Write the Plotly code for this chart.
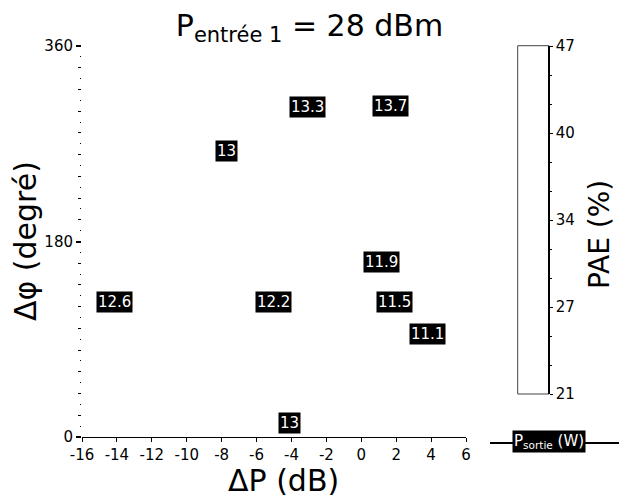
import plotly.graph_objects as go

# Data
delta_p = [-14.15, -5.03, 1.15, 1.92, 3.82, -4.1, -3.06, 1.65, -7.7]
delta_phi = [124.6, 124.5, 160.7, 124.6, 94.4, 12.6, 304.1, 305.0, 263.6]
p_sortie = ["12.6", "12.2", "11.9", "11.5", "11.1", "13", "13.3", "13.7", "13"]

x_ticks = [-16, -14, -12, -10, -8, -6, -4, -2, 0, 2, 4, 6]
x_ticktext = ["-16", "-14", "-12", "-10", "-8", "-6", "-4", "-2", "0", "2", "4", "6"]
y_ticks = [0, 180, 360]
pae_tickvals = [21, 27.5, 34, 40.5, 47]
pae_ticktext = ["21", "27", "34", "40", "47"]

W, H = 619, 498
L, R, T, B = 82, 20, 46, 61
PW = W - L - R
PH = H - T - B


def px(xp):
    return (xp - L) / PW


def py(yp):
    return (H - B - yp) / PH


FONT = "DejaVu Sans"

fig = go.Figure()

# invisible traces to anchor axes
fig.add_trace(go.Scatter(x=delta_p, y=delta_phi, mode="markers",
                         marker=dict(opacity=0), hoverinfo="skip", showlegend=False))
fig.add_trace(go.Scatter(x=[None], y=[None], yaxis="y2", showlegend=False, hoverinfo="skip"))
fig.add_trace(go.Scatter(x=[None], y=[None], yaxis="y3", showlegend=False, hoverinfo="skip"))

annotations = []
for xv, yv, t in zip(delta_p, delta_phi, p_sortie):
    annotations.append(dict(x=xv, y=yv, xref="x", yref="y", text=t, showarrow=False,
                            font=dict(family=FONT, size=15, color="white"),
                            bgcolor="black", borderpad=1, xanchor="center", yanchor="middle"))

# axis titles
annotations.append(dict(x=px(283), y=py(480), xref="paper", yref="paper", text="ΔP (dB)",
                        showarrow=False, font=dict(family=FONT, size=30, color="black"),
                        xanchor="center", yanchor="middle"))
annotations.append(dict(x=px(25), y=py(241), xref="paper", yref="paper", text="Δφ (degré)",
                        showarrow=False, textangle=-90, font=dict(family=FONT, size=30, color="black"),
                        xanchor="center", yanchor="middle"))
annotations.append(dict(x=px(599), y=py(235), xref="paper", yref="paper", text="PAE (%)",
                        showarrow=False, textangle=-90, font=dict(family=FONT, size=28, color="black"),
                        xanchor="center", yanchor="middle"))
# legend label
annotations.append(dict(x=px(548.5), y=py(441), xref="paper", yref="paper",
                        text="P<sub>sortie</sub> (W)", showarrow=False,
                        font=dict(family=FONT, size=15, color="white"),
                        bgcolor="black", borderpad=1, xanchor="center", yanchor="middle"))

shapes = [
    dict(type="rect", xref="paper", yref="paper", x0=px(517.7), x1=px(549), y0=py(394), y1=py(45.7),
         line=dict(color="#444", width=1), fillcolor="white", layer="below"),
    dict(type="line", xref="paper", yref="paper", x0=px(490), x1=px(619), y0=py(443), y1=py(443),
         line=dict(color="black", width=2), layer="below"),
]

fig.update_layout(
    width=W, height=H,
    margin=dict(l=L, r=R, t=T, b=B),
    paper_bgcolor="white", plot_bgcolor="white",
    font=dict(family=FONT, size=15, color="black"),
    title=dict(text="P<sub>entrée 1</sub> = 28 dBm", x=0.5, xref="container", xanchor="center",
               y=1 - 25 / H, yref="container", yanchor="middle",
               font=dict(family=FONT, size=30, color="black")),
    showlegend=False,
    xaxis=dict(domain=[0, 384 / PW], range=[-16, 6], tickmode="array", tickvals=x_ticks,
               ticktext=x_ticktext,
               showgrid=False, zeroline=False, showline=True, linecolor="black", linewidth=1,
               ticks="outside", ticklen=4, tickcolor="black", tickfont=dict(size=15),
               anchor="y"),
    yaxis=dict(domain=[0, 1], range=[0, 360], tickmode="array", tickvals=y_ticks,
               showgrid=False, zeroline=False, showline=False,
               ticks="outside", ticklen=5, tickwidth=2, tickcolor="black", tickfont=dict(size=15),
               minor=dict(tickmode="array", tickvals=[v for v in range(20, 360, 20) if v != 180],
                          ticks="outside", ticklen=3, tickwidth=1, tickcolor="black", showgrid=False),
               anchor="x"),
    yaxis3=dict(overlaying="y", range=[0, 360], tickmode="array",
                tickvals=list(range(10, 360, 20)), ticks="outside", ticklen=1.5, tickwidth=1,
                tickcolor="black", showticklabels=False, showgrid=False, zeroline=False,
                showline=False, side="left", anchor="x"),
    yaxis2=dict(domain=[py(394), min(1.0, py(45.7))], range=[21, 47], anchor="free",
                position=px(549), side="right", tickmode="array", tickvals=pae_tickvals,
                ticktext=pae_ticktext, showgrid=False, zeroline=False, showline=True,
                linecolor="black", linewidth=1.5, ticks="outside", ticklen=3, tickcolor="black",
                tickfont=dict(size=15),
                minor=dict(tickmode="array",
                           tickvals=[21 + 26 * k / 12 for k in range(1, 12)],
                           ticks="outside", ticklen=2, tickcolor="black", showgrid=False)),
    annotations=annotations,
    shapes=shapes,
)

fig.write_html("out.html", config={"displayModeBar": False},
               post_script="document.body.style.margin='0';document.body.style.overflow='hidden';")
